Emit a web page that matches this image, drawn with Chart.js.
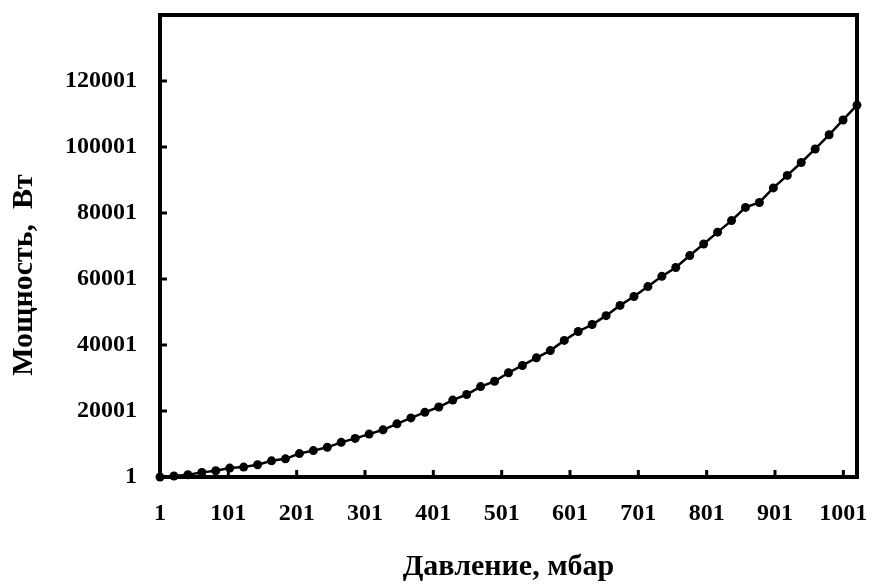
<!DOCTYPE html>
<html lang="ru">
<head>
    <meta charset="UTF-8">
    <title>Мощность от давления</title>
    <script src="https://cdn.jsdelivr.net/npm/chart.js"></script>
    <style>
        body { margin: 0; background: #fff; }
    </style>
</head>
<body>
    <canvas id="chart" width="873" height="585"></canvas>

    <script>
        // Data
        const pressure = [1, 21, 41, 61, 81, 101, 121, 141, 161, 181, 201, 221, 241, 261, 281, 301, 321, 341, 361, 381,
            401, 421, 441, 461, 481, 501, 521, 541, 561, 581, 601, 621, 641, 661, 681, 701, 721, 741, 761, 781,
            801, 821, 841, 861, 881, 901, 921, 941, 961, 981, 1001];
        const power = [1, 300, 700, 1400, 1900, 2700, 3000, 3700, 4900, 5500, 7100, 8000, 9000, 10500, 11700, 13000, 14300, 16100, 17900, 19600,
            21200, 23300, 25000, 27400, 29000, 31600, 33800, 36100, 38300, 41400, 44100, 46200, 48900, 52000, 54700, 57700, 60800, 63500, 67100, 70600,
            74200, 77700, 81700, 83200, 87600, 91400, 95300, 99400, 103700, 108200, 112700];
        const xTicks = [1, 101, 201, 301, 401, 501, 601, 701, 801, 901, 1001];
        const yTicks = [1, 20001, 40001, 60001, 80001, 100001, 120001];

        const FONT = "'Liberation Serif', 'Times New Roman', serif";

        // frame + inward tick marks + rotated y title
        const framePlugin = {
            id: 'frame',
            beforeDatasetsDraw(chart) {
                const { ctx, chartArea: a, scales } = chart;
                ctx.save();
                ctx.strokeStyle = '#000';
                ctx.lineWidth = 3;
                yTicks.forEach(v => {
                    const y = scales.y.getPixelForValue(v);
                    ctx.beginPath(); ctx.moveTo(a.left, y); ctx.lineTo(a.left + 7, y); ctx.stroke();
                });
                xTicks.forEach(v => {
                    const x = scales.x.getPixelForValue(v);
                    ctx.beginPath(); ctx.moveTo(x, a.bottom); ctx.lineTo(x, a.bottom - 7); ctx.stroke();
                });
                ctx.lineWidth = 4;
                ctx.strokeRect(a.left, a.top, a.right - a.left, a.bottom - a.top);
                ctx.restore();
            },
            afterDraw(chart) {
                const ctx = chart.ctx;
                ctx.save();
                ctx.translate(24, 275);
                ctx.rotate(-Math.PI / 2);
                ctx.fillStyle = '#000';
                ctx.font = 'bold 30px ' + FONT;
                ctx.textAlign = 'center';
                ctx.textBaseline = 'middle';
                ctx.fillText('Мощность,  Вт', 0, 0);
                ctx.restore();
            }
        };

        new Chart(document.getElementById('chart'), {
            type: 'line',
            data: {
                datasets: [{
                    data: pressure.map((p, i) => ({ x: p, y: power[i] })),
                    xAxisID: 'xd',
                    yAxisID: 'y',
                    borderColor: '#000',
                    backgroundColor: '#000',
                    borderWidth: 2.5,
                    pointRadius: 4.5,
                    pointBorderWidth: 0,
                    pointBackgroundColor: '#000',
                    tension: 0,
                    clip: false
                }]
            },
            options: {
                responsive: false,
                animation: false,
                layout: { padding: { left: 0, right: 16, top: 15, bottom: 0 } },
                plugins: {
                    legend: { display: false },
                    tooltip: { enabled: false }
                },
                scales: {
                    x: {
                        type: 'linear',
                        position: 'bottom',
                        min: 1,
                        max: 1021,
                        grid: { display: false, drawTicks: false },
                        border: { display: false },
                        afterBuildTicks: s => { s.ticks = xTicks.map(v => ({ value: v })); },
                        afterFit: s => { s.height = 108; s.paddingLeft = 0; s.paddingRight = 0; },
                        ticks: {
                            autoSkip: false,
                            maxRotation: 0,
                            padding: 22,
                            color: '#000',
                            callback: v => String(v),
                            font: { family: FONT, size: 24, weight: 'bold' }
                        },
                        title: {
                            display: true,
                            text: 'Давление, мбар',
                            color: '#000',
                            padding: { top: 0, bottom: 0 },
                            font: { family: FONT, size: 30, weight: 'bold' }
                        }
                    },
                    xd: {
                        type: 'linear',
                        axis: 'x',
                        display: false,
                        min: 1,
                        max: 1001
                    },
                    y: {
                        type: 'linear',
                        min: 1,
                        max: 140001,
                        grid: { display: false, drawTicks: false },
                        border: { display: false },
                        afterBuildTicks: s => { s.ticks = yTicks.map(v => ({ value: v })); },
                        afterFit: s => { s.width = 160; s.paddingTop = 0; s.paddingBottom = 0; },
                        ticks: {
                            padding: 23,
                            color: '#000',
                            callback: v => String(v),
                            font: { family: FONT, size: 24, weight: 'bold' }
                        }
                    }
                }
            },
            plugins: [framePlugin]
        });
    </script>
</body>
</html>
